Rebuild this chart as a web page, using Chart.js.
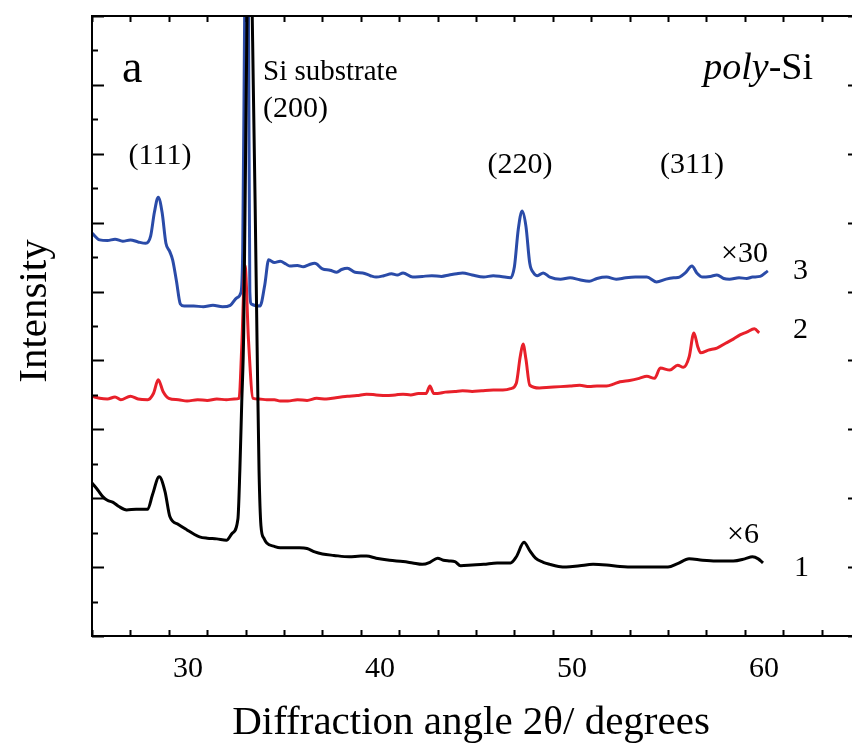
<!DOCTYPE html>
<html>
<head>
<meta charset="utf-8">
<script src="https://cdn.jsdelivr.net/npm/chart.js@4"></script>
<style>
	html, body { margin: 0; padding: 0; background: #fff; overflow: hidden; }
	#wrap { width: 870px; height: 746px; }
</style>
</head>
<body>
<div id="wrap"><canvas id="myChart" width="870" height="746"></canvas></div>
<script>
	// curve 1 (black, x6)
	var angles1 = [25.0, 25.3, 25.57, 25.8, 26.1, 26.4, 26.8, 27.3, 27.9, 28.15, 28.5, 28.8, 29.06, 29.5, 29.95, 30.3, 30.6, 31.0, 31.5, 32.0, 32.3, 32.6, 32.7, 32.8, 32.9, 33.0, 33.1, 33.2, 33.3, 33.4, 33.5, 33.6, 33.7, 33.8, 33.95, 34.1, 34.5, 34.8, 35.3, 35.8, 36.2, 36.6, 37.0, 37.6, 38.4, 39.0, 39.3, 39.8, 40.5, 41.2, 41.7, 42.2, 42.6, 43.0, 43.3, 43.6, 43.9, 44.2, 44.8, 45.4, 46.1, 46.8, 47.1, 47.5, 47.8, 48.1, 48.5, 48.85, 49.3, 49.7, 50.4, 51.1, 51.8, 52.5, 53.2, 54.0, 55.0, 55.5, 56.1, 56.8, 57.5, 58.4, 59.0, 59.4, 59.7, 59.95];
	var counts1 = [2.22, 2.12, 2.02, 1.97, 1.94, 1.88, 1.83, 1.84, 1.84, 2.05, 2.31, 2.1, 1.73, 1.62, 1.54, 1.48, 1.44, 1.42, 1.41, 1.39, 1.49, 1.7, 2.4, 3.4, 4.4, 7.0, 9.6, 10.7, 9.8, 8.0, 6.2, 4.2, 2.4, 1.6, 1.42, 1.35, 1.30, 1.28, 1.28, 1.28, 1.27, 1.22, 1.19, 1.17, 1.15, 1.16, 1.16, 1.13, 1.10, 1.08, 1.06, 1.04, 1.07, 1.13, 1.10, 1.09, 1.08, 1.02, 1.03, 1.04, 1.06, 1.06, 1.15, 1.36, 1.24, 1.13, 1.07, 1.04, 1.01, 1.00, 1.02, 1.04, 1.03, 1.01, 1.00, 1.00, 1.00, 1.05, 1.12, 1.10, 1.09, 1.09, 1.12, 1.15, 1.12, 1.06];

	// curve 2 (red)
	var angles2 = [25.0, 25.4, 25.8, 26.2, 26.5, 27.0, 27.4, 27.9, 28.2, 28.45, 28.7, 29.0, 29.5, 29.95, 30.5, 31.0, 31.5, 32.0, 32.4, 32.66, 32.8, 32.97, 33.15, 33.39, 33.7, 34.1, 34.5, 34.8, 35.2, 35.7, 36.2, 36.7, 37.2, 37.7, 38.3, 38.8, 39.3, 39.8, 40.3, 40.8, 41.2, 41.6, 42.0, 42.4, 42.6, 42.8, 43.0, 43.4, 43.9, 44.3, 44.8, 45.3, 45.9, 46.4, 46.8, 47.1, 47.3, 47.45, 47.6, 47.8, 48.3, 48.85, 49.4, 49.9, 50.4, 50.9, 51.3, 51.8, 52.2, 52.5, 53.0, 53.5, 53.9, 54.3, 54.6, 55.1, 55.5, 55.8, 56.1, 56.35, 56.55, 56.7, 57.1, 57.55, 58.0, 58.4, 58.75, 59.1, 59.5, 59.75];
	var counts2 = [3.48, 3.45, 3.44, 3.47, 3.43, 3.48, 3.44, 3.43, 3.52, 3.72, 3.55, 3.45, 3.43, 3.41, 3.43, 3.42, 3.44, 3.43, 3.44, 3.45, 4.2, 5.38, 4.3, 3.45, 3.44, 3.43, 3.43, 3.41, 3.41, 3.43, 3.42, 3.45, 3.44, 3.46, 3.48, 3.49, 3.51, 3.50, 3.49, 3.50, 3.51, 3.50, 3.52, 3.52, 3.63, 3.52, 3.52, 3.54, 3.55, 3.56, 3.55, 3.56, 3.57, 3.57, 3.59, 3.67, 4.05, 4.24, 4.02, 3.64, 3.60, 3.61, 3.62, 3.63, 3.64, 3.62, 3.63, 3.63, 3.66, 3.69, 3.71, 3.74, 3.77, 3.74, 3.89, 3.86, 3.93, 3.90, 4.05, 4.40, 4.2, 4.11, 4.15, 4.18, 4.25, 4.31, 4.37, 4.41, 4.46, 4.40];

	// curve 3 (blue, x30)
	var angles3 = [25.0, 25.4, 25.8, 26.2, 26.6, 27.0, 27.4, 27.8, 28.05, 28.25, 28.45, 28.65, 28.85, 29.05, 29.2, 29.4, 29.6, 29.8, 30.3, 30.8, 31.3, 31.8, 32.2, 32.55, 32.75, 32.85, 32.95, 33.05, 33.15, 33.22, 33.3, 33.75, 34.0, 34.2, 34.5, 34.8, 35.1, 35.3, 35.7, 36.0, 36.3, 36.6, 37.0, 37.4, 37.75, 38.0, 38.3, 38.7, 39.1, 39.5, 39.8, 40.2, 40.6, 40.9, 41.2, 41.7, 42.2, 42.7, 43.2, 43.6, 44.0, 44.3, 44.8, 45.4, 45.9, 46.3, 46.8, 47.0, 47.2, 47.4, 47.6, 47.8, 48.0, 48.2, 48.5, 48.85, 49.4, 49.9, 50.4, 50.9, 51.3, 51.8, 52.3, 52.8, 53.3, 53.9, 54.4, 54.9, 55.3, 55.6, 55.9, 56.25, 56.5, 56.8, 57.2, 57.55, 57.9, 58.2, 58.7, 59.1, 59.4, 59.8, 60.2];
	var counts3 = [5.85, 5.75, 5.74, 5.76, 5.73, 5.75, 5.72, 5.70, 5.80, 6.15, 6.37, 6.15, 5.70, 5.58, 5.46, 5.15, 4.82, 4.79, 4.79, 4.78, 4.80, 4.78, 4.80, 4.91, 4.98, 5.6, 9.0, 12.0, 9.0, 5.0, 4.82, 4.79, 5.1, 5.46, 5.42, 5.44, 5.40, 5.37, 5.38, 5.36, 5.39, 5.41, 5.33, 5.31, 5.28, 5.32, 5.34, 5.28, 5.27, 5.23, 5.21, 5.23, 5.26, 5.24, 5.27, 5.21, 5.22, 5.23, 5.22, 5.24, 5.26, 5.27, 5.24, 5.21, 5.23, 5.22, 5.20, 5.36, 5.9, 6.17, 5.95, 5.41, 5.27, 5.23, 5.27, 5.21, 5.18, 5.20, 5.17, 5.15, 5.19, 5.21, 5.18, 5.20, 5.21, 5.21, 5.14, 5.18, 5.20, 5.21, 5.27, 5.37, 5.27, 5.21, 5.22, 5.24, 5.19, 5.18, 5.20, 5.19, 5.21, 5.22, 5.30];

	var xTicks = [30, 40, 50, 60];
	var xMin = 25, xMax = 65, yMin = 0, yMax = 9;

	var serif = '"Liberation Serif", "Times New Roman", serif';

	function toPoints(xs, ys) {
		return xs.map(function (x, i) { return { x: x, y: ys[i] }; });
	}

	// frame, inward ticks and the annotations
	var framePlugin = {
		id: 'frame',
		afterDraw: function (chart) {
			var c = chart.ctx;
			var a = chart.chartArea;
			var sx = chart.scales.x, sy = chart.scales.y;
			var v, p, len;
			c.save();
			c.strokeStyle = '#000';
			c.lineWidth = 2;
			c.strokeRect(a.left, a.top, a.right - a.left, a.bottom - a.top);
			c.beginPath();
			for (v = xMin; v <= xMax; v += 2) {
				p = Math.round(sx.getPixelForValue(v)) + 0.5;
				len = (v % 10 === 0) ? 12 : 6;
				c.moveTo(p, a.bottom); c.lineTo(p, a.bottom - len);
				c.moveTo(p, a.top); c.lineTo(p, a.top + len);
			}
			for (v = yMin; v <= yMax; v += 0.5) {
				p = Math.round(sy.getPixelForValue(v)) + 0.5;
				len = (v % 1 === 0) ? 12 : 6;
				c.moveTo(a.left, p); c.lineTo(a.left + len, p);
				c.moveTo(a.right, p); c.lineTo(a.right - len, p);
			}
			c.stroke();

			c.fillStyle = '#000';
			c.textBaseline = 'alphabetic';
			c.textAlign = 'left';
			c.font = '46px ' + serif;
			c.fillText('a', 122, 82);
			c.font = '29px ' + serif;
			c.fillText('Si substrate', 263, 80);
			c.font = '30px ' + serif;
			c.fillText('(200)', 263, 117);
			c.textAlign = 'center';
			c.fillText('(111)', 160, 164);
			c.fillText('(220)', 520, 173);
			c.fillText('(311)', 692, 173);
			c.textAlign = 'left';
			c.fillText('\u00d730', 721, 262);
			c.fillText('3', 793, 279);
			c.fillText('2', 793, 338);
			c.fillText('\u00d76', 727, 543);
			c.fillText('1', 794, 576);

			// poly-Si, right aligned
			c.font = '38px ' + serif;
			var wSi = c.measureText('-Si').width;
			c.fillText('-Si', 813 - wSi, 79);
			c.font = 'italic 38px ' + serif;
			var wPoly = c.measureText('poly').width;
			c.fillText('poly', 813 - wSi - wPoly, 79);

			// axis titles
			c.font = '41px ' + serif;
			c.textAlign = 'center';
			c.fillText('Diffraction angle 2\u03b8/ degrees', 471, 734);
			c.translate(46, 311);
			c.rotate(-Math.PI / 2);
			c.fillText('Intensity', 0, 0);
			c.restore();
		}
	};

	var ctx = document.getElementById('myChart');
	var myChart = new Chart(ctx, {
		type: 'line',
		data: {
			datasets: [
				{
					label: '1',
					data: toPoints(angles1, counts1),
					borderColor: '#000000',
					borderWidth: 3
				},
				{
					label: '2',
					data: toPoints(angles2, counts2),
					borderColor: '#e8202a',
					borderWidth: 3
				},
				{
					label: '3',
					data: toPoints(angles3, counts3),
					borderColor: '#2a4ba8',
					borderWidth: 3
				}
			]
		},
		options: {
			responsive: false,
			animation: false,
			devicePixelRatio: 1,
			elements: {
				point: { radius: 0 },
				line: { cubicInterpolationMode: 'monotone', fill: false }
			},
			layout: { padding: { top: 16, right: 10, left: 0, bottom: 0 } },
			plugins: {
				legend: { display: false },
				tooltip: { enabled: false }
			},
			scales: {
				x: {
					type: 'linear',
					min: xMin,
					max: xMax,
					grid: { display: false, drawTicks: false },
					border: { display: false },
					afterFit: function (scale) { scale.height = 110; },
					afterBuildTicks: function (scale) {
						scale.ticks = xTicks.map(function (v) { return { value: v }; });
					},
					ticks: {
						autoSkip: false,
						maxRotation: 0,
						padding: 15,
						color: '#000',
						font: { family: serif, size: 30 }
					}
				},
				y: {
					type: 'linear',
					min: yMin,
					max: yMax,
					grid: { display: false, drawTicks: false },
					border: { display: false },
					ticks: { display: false },
					afterFit: function (scale) { scale.width = 92; }
				}
			}
		},
		plugins: [framePlugin]
	});
</script>
</body>
</html>
